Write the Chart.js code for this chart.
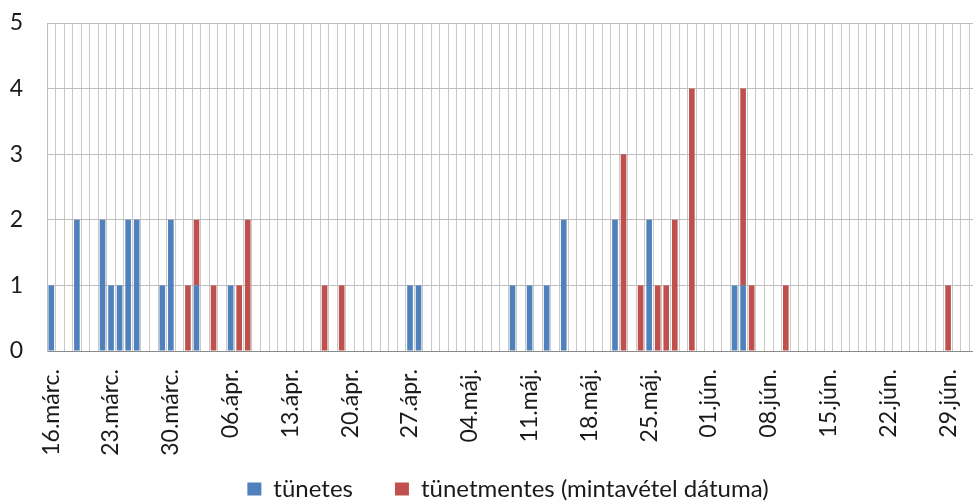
<!DOCTYPE html>
<html>
<head>
<meta charset="utf-8">
<script src="https://cdn.jsdelivr.net/npm/chart.js@4"></script>
<style>
  html, body { margin: 0; padding: 0; background: #fff; overflow: hidden; }
  #wrap { width: 1016px; height: 511px; }
</style>
</head>
<body>
<div id="wrap"><canvas id="chart"></canvas></div>
<script>
// one category per day, 16 March to 2 July (the last one is cut off at the edge)
const startDay = new Date(Date.UTC(2020, 2, 16));
const categories = [];
for (let i = 0; i < 109; i++) {
  const d = new Date(startDay.getTime() + i * 86400000);
  categories.push(d.toISOString().slice(0, 10));
}

// a label under every 7th day
const tickLabels = ['16.márc.', '23.márc.', '30.márc.', '06.ápr.', '13.ápr.', '20.ápr.', '27.ápr.',
  '04.máj.', '11.máj.', '18.máj.', '25.máj.', '01.jún.', '08.jún.', '15.jún.', '22.jún.', '29.jún.'];

// rows are weeks
const tunetes = [
  1, 0, 0, 2, 0, 0, 2,
  1, 1, 2, 2, 0, 0, 1,
  2, 0, 0, 1, 0, 0, 0,
  1, 0, 0, 0, 0, 0, 0,
  0, 0, 0, 0, 0, 0, 0,
  0, 0, 0, 0, 0, 0, 0,
  1, 1, 0, 0, 0, 0, 0,
  0, 0, 0, 0, 0, 1, 0,
  1, 0, 1, 0, 2, 0, 0,
  0, 0, 0, 2, 0, 0, 0,
  2, 0, 0, 0, 0, 0, 0,
  0, 0, 0, 1, 1, 0, 0,
  0, 0, 0, 0, 0, 0, 0,
  0, 0, 0, 0, 0, 0, 0,
  0, 0, 0, 0, 0, 0, 0,
  0, 0, 0, 0
];

const tunetmentes = [
  0, 0, 0, 0, 0, 0, 0,
  0, 0, 0, 0, 0, 0, 0,
  0, 0, 1, 1, 0, 1, 0,
  0, 1, 2, 0, 0, 0, 0,
  0, 0, 0, 0, 1, 0, 1,
  0, 0, 0, 0, 0, 0, 0,
  0, 0, 0, 0, 0, 0, 0,
  0, 0, 0, 0, 0, 0, 0,
  0, 0, 0, 0, 0, 0, 0,
  0, 0, 0, 0, 3, 0, 1,
  0, 1, 1, 2, 0, 4, 0,
  0, 0, 0, 0, 3, 1, 0,
  0, 0, 1, 0, 0, 0, 0,
  0, 0, 0, 0, 0, 0, 0,
  0, 0, 0, 0, 0, 0, 0,
  1, 0, 0, 0
];

const legendFont = 24;
const legendPad = 42;
const legendH = legendFont + legendPad + 10;

Chart.defaults.font.family = 'Lato, "Open Sans", sans-serif';
Chart.defaults.font.size = 23;
Chart.defaults.color = '#1a1a1a';

new Chart(document.getElementById('chart'), {
  type: 'bar',
  data: {
    labels: categories,
    datasets: [{
      label: 'tünetes',
      data: tunetes,
      backgroundColor: '#4F81BD',
      barPercentage: 0.66,
      categoryPercentage: 1
    }, {
      label: 'tünetmentes (mintavétel dátuma)',
      data: tunetmentes,
      backgroundColor: '#C0504D',
      barPercentage: 0.66,
      categoryPercentage: 1
    }]
  },
  options: {
    responsive: true,
    maintainAspectRatio: false,
    animation: false,
    layout: { padding: { top: 23, left: 0, right: 0, bottom: 0 } },
    plugins: {
      legend: {
        position: 'bottom',
        labels: { boxWidth: 14, boxHeight: 13, padding: legendPad, font: { size: legendFont } }
      },
      tooltip: { enabled: false }
    },
    scales: {
      x: {
        stacked: true,
        grid: { color: '#CACACA', drawTicks: false, offset: true },
        border: { color: '#8C8C8C' },
        ticks: {
          autoSkip: false,
          maxRotation: 90,
          minRotation: 90,
          padding: 18,
          callback: function (v, i) {
            return i % 7 === 0 ? tickLabels[i / 7] : '';
          }
        },
        afterFit: function (scale) {
          scale.height = 511 - 351 - legendH;
          scale.paddingLeft = 0;
          scale.paddingRight = 0;
          // let the long date labels run past the axis box, like the original
          scale._computeLabelArea = function () { return undefined; };
        }
      },
      y: {
        stacked: true,
        min: 0,
        max: 5,
        grid: { color: '#BDBDBD', drawTicks: false },
        border: { color: '#BDBDBD' },
        ticks: { stepSize: 1, padding: 24 },
        afterFit: function (scale) {
          scale.width = 47;
          scale.paddingTop = 0;
          scale.paddingBottom = 0;
        }
      },
      // empty strip on the right, keeps the plot edge where the original one is cut
      yRight: {
        position: 'right',
        min: 0,
        max: 5,
        grid: { display: false },
        border: { display: false },
        ticks: { display: false },
        afterFit: function (scale) {
          scale.width = 38;
          scale.paddingTop = 0;
          scale.paddingBottom = 0;
        }
      }
    }
  }
});
</script>
</body>
</html>
